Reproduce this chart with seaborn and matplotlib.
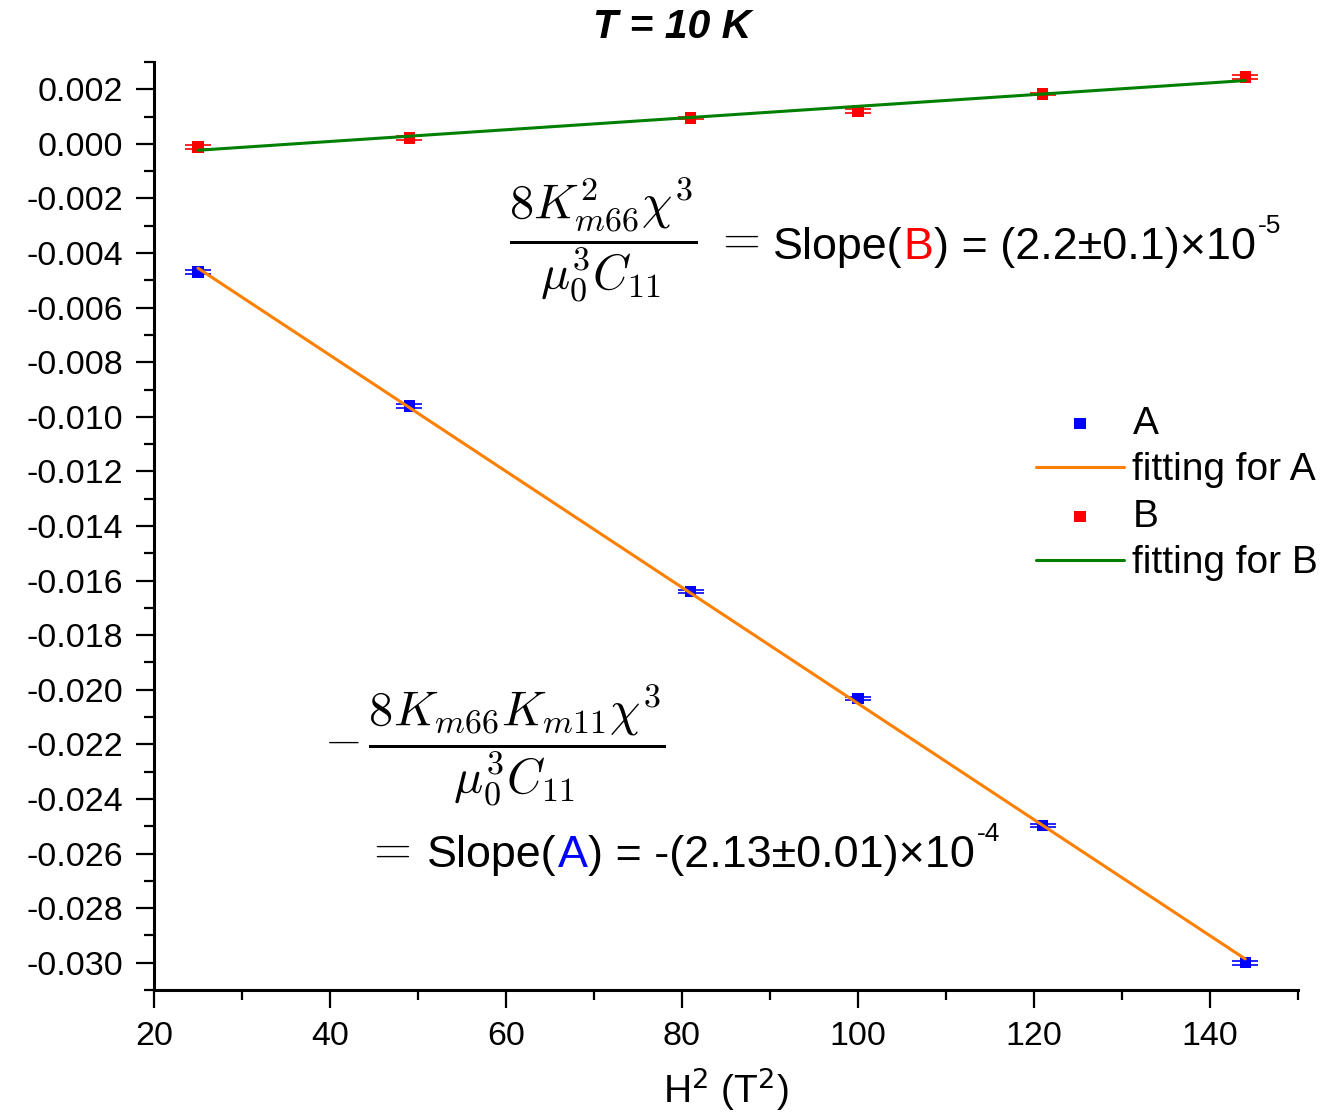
import numpy as np
import pandas as pd
import matplotlib
matplotlib.use("Agg")
import matplotlib.pyplot as plt
import seaborn as sns
from matplotlib.ticker import MultipleLocator, FormatStrFormatter

# ---------------- data ----------------
h2 = [25, 49, 81, 100, 121, 144]
a_vals = [-0.00469, -0.00960, -0.01641, -0.02033, -0.02498, -0.03000]
a_err = [0.00006, 0.00006, 0.00005, 0.00006, 0.00006, 0.00007]
b_vals = [-0.00011, 0.00022, 0.00095, 0.00120, 0.00183, 0.00245]
b_err = [0.00006, 0.00006, 0.00005, 0.00006, 0.00005, 0.00006]
series_labels = ["A", "fitting for A", "B", "fitting for B"]
title = "T = 10 K"
xlabel = "H$^2$ (T$^2$)"

# ---------------- style ----------------
sns.set_theme(style="ticks")
plt.rcParams["font.family"] = ["Liberation Sans", "DejaVu Sans"]
plt.rcParams["axes.unicode_minus"] = False
plt.rcParams["text.color"] = "black"

W, H = 1327, 1117
fig = plt.figure(figsize=(W / 100, H / 100), dpi=100)
ax = fig.add_axes([154 / W, 1 - 990 / H, (1298 - 154) / W, (990 - 62) / H])

df_a = pd.DataFrame({"x": h2, "y": a_vals})
df_b = pd.DataFrame({"x": h2, "y": b_vals})
pa = np.polyfit(h2, a_vals, 1)
pb = np.polyfit(h2, b_vals, 1)
df_fa = pd.DataFrame({"x": h2, "y": np.polyval(pa, h2)})
df_fb = pd.DataFrame({"x": h2, "y": np.polyval(pb, h2)})

# error bars
ax.errorbar(h2, a_vals, yerr=a_err, fmt="none", ecolor="#0000FF", elinewidth=1.2,
            capsize=9.5, capthick=1.2, zorder=3)
ax.errorbar(h2, b_vals, yerr=b_err, fmt="none", ecolor="#FF0000", elinewidth=1.2,
            capsize=9.5, capthick=1.2, zorder=3)

sns.scatterplot(data=df_a, x="x", y="y", marker="s", color="#0000FF", s=66,
                edgecolor="none", ax=ax, label=series_labels[0], zorder=4)
sns.lineplot(data=df_fa, x="x", y="y", color="#FF8000", lw=2.2, ax=ax,
             label=series_labels[1], zorder=5)
sns.scatterplot(data=df_b, x="x", y="y", marker="s", color="#FF0000", s=66,
                edgecolor="none", ax=ax, label=series_labels[2], zorder=4)
sns.lineplot(data=df_fb, x="x", y="y", color="#008000", lw=2.2, ax=ax,
             label=series_labels[3], zorder=5)

ax.set_xlim(20, 150)
ax.set_ylim(-0.031, 0.003)
ax.xaxis.set_major_locator(MultipleLocator(20))
ax.xaxis.set_minor_locator(MultipleLocator(10))
ax.yaxis.set_major_locator(MultipleLocator(0.002))
ax.yaxis.set_minor_locator(MultipleLocator(0.001))
ax.yaxis.set_major_formatter(FormatStrFormatter("%.3f"))
for s in ["top", "right"]:
    ax.spines[s].set_visible(False)
for s in ["left", "bottom"]:
    ax.spines[s].set_linewidth(2.2)
    ax.spines[s].set_color("black")
ax.tick_params(axis="both", which="major", direction="out", length=13, width=1.6,
               labelsize=24.5, color="black", labelcolor="black")
ax.tick_params(axis="both", which="minor", direction="out", length=7, width=1.6,
               color="black")
ax.tick_params(axis="y", which="major", pad=9)
ax.tick_params(axis="x", which="major", pad=9)
ax.set_xlabel(xlabel, fontsize=28, labelpad=10, color="black")
ax.xaxis.label.set_math_fontfamily("dejavusans")
ax.set_ylabel("")
ax.set_facecolor("white")

# legend
handles, labels = ax.get_legend_handles_labels()
leg = ax.legend(handles, labels, loc="upper left", frameon=False,
                bbox_to_anchor=(1036 / W, 1 - 406 / H), bbox_transform=fig.transFigure,
                borderpad=0, borderaxespad=0, fontsize=28, handlelength=2.26,
                handletextpad=0.22, labelspacing=0.27, markerscale=1.0,
                labelcolor="black")

# title
fig.text(672 / W, 1 - 27 / H, title, ha="center", va="center", fontsize=29.5,
         fontweight="bold", fontstyle="italic", color="black")

# annotations
renderer = fig.canvas.get_renderer()


def chain(x_px, base_px, pieces):
    x = x_px
    for txt, col, size, dy in pieces:
        t = fig.text(x / W, 1 - (base_px + dy) / H, txt, ha="left", va="baseline",
                     fontsize=size, color=col)
        bb = t.get_window_extent(renderer)
        x = bb.x1 + 1


fig.text(603 / W, 1 - 240 / H, r"$\dfrac{8K_{m66}^{2}\chi^{3}}{\mu_0^{3}C_{11}}$",
         ha="center", va="center", fontsize=35, math_fontfamily="cm", color="black")
fig.text(737 / W, 1 - 240 / H, r"$=$", ha="center", va="center", fontsize=35,
         math_fontfamily="cm", color="black")
chain(773, 259, [("Slope(", "black", 32.3, 0), ("B", "#FF0000", 32.3, 0),
                 (") = (2.2\u00b10.1)\u00d710", "black", 32.3, 0),
                 ("-5", "black", 19, -26)])

fig.text(495 / W, 1 - 745 / H, r"$-\,\dfrac{8K_{m66}K_{m11}\chi^{3}}{\mu_0^{3}C_{11}}$",
         ha="center", va="center", fontsize=35, math_fontfamily="cm", color="black")
fig.text(388 / W, 1 - 850 / H, r"$=$", ha="center", va="center", fontsize=35,
         math_fontfamily="cm", color="black")
chain(427, 867, [("Slope(", "black", 32.3, 0), ("A", "#0000FF", 32.3, 0),
                 (") = -(2.13\u00b10.01)\u00d710", "black", 32.3, 0),
                 ("-4", "black", 19, -26)])

fig.savefig("out.png", dpi=100, facecolor="white")
